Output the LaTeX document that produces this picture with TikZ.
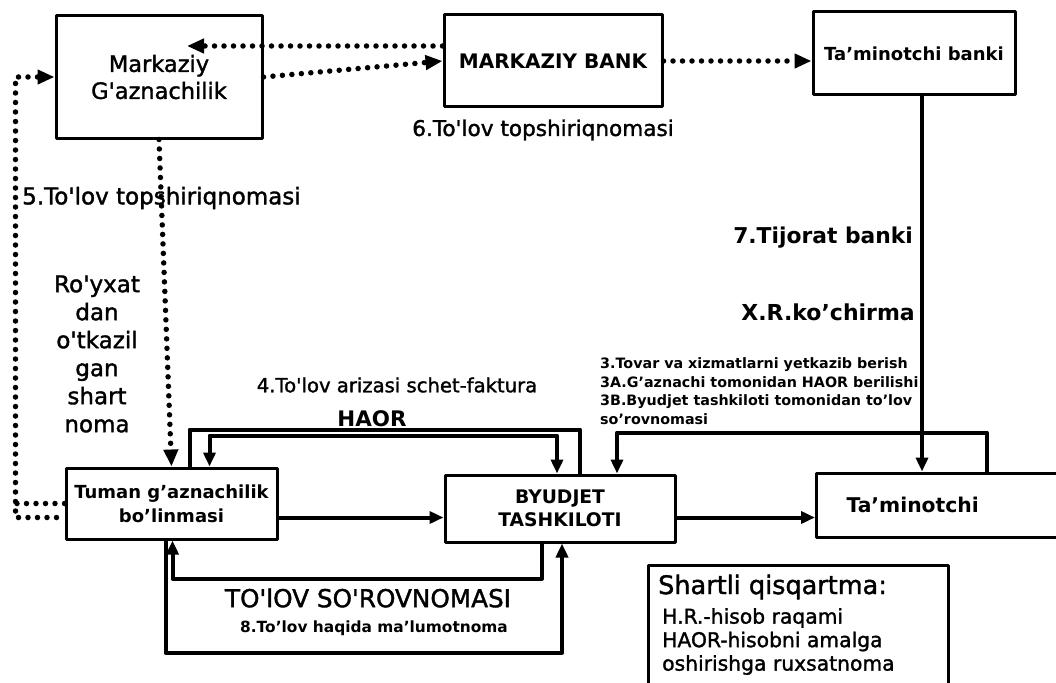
\documentclass[tikz,border=0pt]{standalone}
\usepackage{fontspec}
\setmainfont{DejaVu Sans}
\newfontfamily\thick[FakeBold=1.5]{DejaVu Sans}
\usetikzlibrary{positioning,arrows.meta,calc}
\tikzset{
	flow/.style={x=1pt,y=-1pt,line join=round,>={Triangle[length=14pt,width=12pt]}},
	box/.style={draw,line width=3pt,align=center,inner sep=0pt},
	link/.style={line width=4pt},
	dots/.style={line width=5.5pt,line cap=round,dash pattern=on 0pt off 9.5pt},
	dotarrow/.style={dots,-{Triangle[length=17pt,width=14pt]}},
	lbl/.style={align=center,inner sep=0pt}
}
\newcommand{\fsz}[2]{\fontsize{#1}{#2}\selectfont}

\begin{document}
\begin{tikzpicture}[flow]
	\useasboundingbox (0,0) rectangle (1056,682);

	\node[box,minimum width=206,minimum height=122,font=\thick\fsz{22.5}{27}] (mg) at (159,77) {Markaziy\\G'aznachilik};
	\node[box,minimum width=218,minimum height=92,font=\fsz{20}{24}\bfseries] (mb) at (553,61) {MARKAZIY BANK};
	\node[box,minimum width=202,minimum height=83,font=\fsz{18}{22}\bfseries] (tb) at (914,53.5) {Ta'minotchi banki};
	\node[box,minimum width=211,minimum height=71,font=\fsz{18}{24}\bfseries] (tg) at (171.5,503.5) {Tuman g'aznachilik\\bo'linmasi};
	\node[box,minimum width=230,minimum height=67,font=\fsz{18.7}{23}\bfseries] (bt) at (560,508.5) {BYUDJET\\TASHKILOTI};
	\node[box,anchor=west,minimum height=64,text width=200,inner xsep=30,align=left,font=\fsz{20.3}{24}\bfseries] (ta) at (815,505) {Ta'minotchi};
	\node[box,anchor=north west,minimum width=300,minimum height=140] (sq) at (647,564) {};

	% yozuvlar
	\node[lbl,font=\thick\fsz{21.6}{26}] (l6) at (543,130) {6.To'lov topshiriqnomasi};
	\node[lbl,anchor=west,font=\thick\fsz{23}{27}] (l5) at (22,198) {5.To'lov topshiriqnomasi};
	\node[lbl,font=\thick\fsz{23}{28}] (ro) at (97,354) {Ro'yxat\\dan\\o'tkazil\\gan\\shart\\noma};
	\node[lbl,font=\thick\fsz{19.6}{24}] (l4) at (397,385) {4.To'lov arizasi schet-faktura};
	\node[lbl,font=\fsz{21.4}{26}\bfseries] (haor) at (372,419) {HAOR};
	\node[lbl,anchor=east,font=\fsz{21.8}{26}\bfseries] (l7) at (913,238) {7.Tijorat banki};
	\node[lbl,anchor=east,font=\fsz{22}{26}\bfseries] (xr) at (915,312) {X.R.ko'chirma};
	\node[lbl,anchor=west,align=left,font=\fsz{14.3}{18.5}\bfseries] (l3) at (600,391) {3.Tovar va xizmatlarni yetkazib berish\\3A.G'aznachi tomonidan HAOR berilishi\\3B.Byudjet tashkiloti tomonidan to'lov\\so'rovnomasi};
	\node[lbl,font=\thick\fsz{24.7}{28}] (ts) at (368,598) {TO'lOV SO'ROVNOMASI};
	\node[lbl,font=\fsz{15.4}{19}\bfseries] (l8) at (374,628) {8.To'lov haqida ma'lumotnoma};
	\node[lbl,anchor=west,font=\thick\fsz{25.5}{30}] (sqt) at (658,587) {Shartli qisqartma:};
	\node[lbl,anchor=west,align=left,font=\thick\fsz{20.3}{23.5}] (sql) at (662,641.5) {H.R.-hisob raqami\\HAOR-hisobni amalga\\oshirishga ruxsatnoma};

	% nuqtali
	\draw[dotarrow] ([yshift=15pt]mb.west) -- ([xshift=28pt,yshift=31pt]mg.center);
	\draw[dotarrow] (mg.east) -- (mb.west);
	\draw[dotarrow] (mb.east) -- (mb.east -| tb.west);
	\draw[dotarrow] (mg.south) -- (tg.north);
	\draw[dots] (tg.west) -- ++(-49,0);
	\draw[dotarrow] ([xshift=-8pt,yshift=-14pt]tg.west) -- ++(-41,0) |- (mg.west);

	% tutash
	\draw[link] ([xshift=18pt]tg.north) -- ++(0,-37) -| ([xshift=20pt]bt.north);
	\draw[link,<->] ([xshift=38pt]tg.north) -- ++(0,-31) -| ([xshift=-3pt]bt.north);
	\draw[link,->] ([yshift=-14pt]tg.east) -- ([yshift=-14pt]tg.east -| bt.west);
	\draw[link,->] ([yshift=-9pt]bt.east) -- ([yshift=-9pt]bt.east -| ta.west);
	\draw[link,->] ([xshift=40pt]ta.north) -- ++(0,-39) -| ([xshift=57pt]bt.north);
	\draw[link,->] ([xshift=8pt]tb.south) -- ([xshift=8pt]tb.south |- ta.north);
	\draw[link,->] ([xshift=-18pt]bt.south) -- ++(0,35) -| ([xshift=1pt]tg.south);
	\draw[link,->] ([xshift=-6pt]tg.south) -- ++(0,112) -| ([xshift=2pt]bt.south);
\end{tikzpicture}
\end{document}
